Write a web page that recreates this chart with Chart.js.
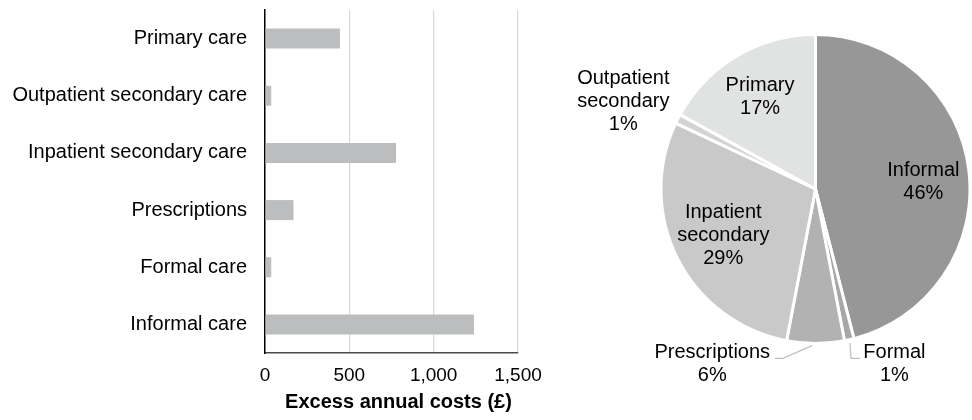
<!DOCTYPE html>
<html>
<head>
<meta charset="utf-8">
<title>Excess annual costs</title>
<script src="https://cdn.jsdelivr.net/npm/chart.js@4.4.1/dist/chart.umd.min.js"></script>
<style>
  html, body { margin: 0; padding: 0; background: #ffffff; }
  #wrap { position: relative; width: 972px; height: 420px; overflow: hidden; }
  #barBox { position: absolute; left: 0; top: 0; width: 560px; height: 420px; }
  #pieBox { position: absolute; left: 540px; top: 0; width: 432px; height: 420px; }
</style>
</head>
<body>
<div id="wrap">
  <div id="barBox"><canvas id="barChart" width="560" height="420"></canvas></div>
  <div id="pieBox"><canvas id="pieChart" width="432" height="420"></canvas></div>
</div>
<script>
// Excess annual cost per person, by cost component (£)
const costCategories = [
  'Primary care',
  'Outpatient secondary care',
  'Inpatient secondary care',
  'Prescriptions',
  'Formal care',
  'Informal care'
];
const costValues = [444, 37, 777, 169, 37, 1239];
const costTicks = [0, 500, 1000, 1500];
const costAxisTitle = 'Excess annual costs (£)';

// Share of total excess cost (%), clockwise from 12 o'clock
const shareNames = ['Informal', 'Formal', 'Prescriptions', 'Inpatient\nsecondary', 'Outpatient\nsecondary', 'Primary'];
const shareValues = [46, 1, 6, 29, 1, 17];
const shareColors = ['#979797', '#a7a7a7', '#b2b2b2', '#c9c9c9', '#d3d3d3', '#e1e2e2'];

const FONT = '"Liberation Sans", Arial, Helvetica, sans-serif';
Chart.defaults.font.family = FONT;
Chart.defaults.color = '#000000';
Chart.defaults.animation = false;

// Bold axis caption under the bar chart
const axisCaption = {
  id: 'axisCaption',
  afterDraw(chart) {
    const ctx = chart.ctx;
    const area = chart.chartArea;
    ctx.save();
    ctx.font = 'bold 20px ' + FONT;
    ctx.fillStyle = '#000000';
    ctx.textAlign = 'center';
    ctx.textBaseline = 'middle';
    ctx.fillText(costAxisTitle, (area.left + area.right) / 2 + 7, 402);
    ctx.restore();
  }
};

new Chart(document.getElementById('barChart'), {
  type: 'bar',
  data: {
    labels: costCategories,
    datasets: [{
      data: costValues,
      backgroundColor: '#bcbdbe',
      borderWidth: 0,
      categoryPercentage: 1,
      barPercentage: 0.35
    }]
  },
  options: {
    indexAxis: 'y',
    responsive: false,
    events: [],
    layout: { padding: { top: 10, right: 42, left: 0, bottom: 0 } },
    plugins: { legend: { display: false }, tooltip: { enabled: false } },
    scales: {
      x: {
        min: costTicks[0],
        max: costTicks[costTicks.length - 1],
        afterBuildTicks(scale) { scale.ticks = costTicks.map(v => ({ value: v })); },
        afterFit(scale) {
          scale.height = 67;
          scale.paddingLeft = 0;
          scale.paddingRight = 0;
        },
        ticks: {
          font: { size: 19 },
          color: '#000000',
          padding: 11,
          maxRotation: 0,
          callback: v => v.toLocaleString('en-GB')
        },
        grid: { color: '#d9d9d9', lineWidth: 1.2, drawTicks: false },
        border: { color: '#4a4a4a', width: 1.5 }
      },
      y: {
        afterFit(scale) {
          scale.width = 265;
          scale.paddingTop = 0;
          scale.paddingBottom = 0;
        },
        ticks: { font: { size: 20 }, color: '#000000', padding: 18 },
        grid: { display: false, drawTicks: false },
        border: { color: '#000000', width: 1.5 }
      }
    }
  },
  plugins: [axisCaption]
});

// Label anchors for the pie, as fractions of the radius from its centre
const labelSpots = [
  [0.698, -0.045],
  [0.511, 1.131],
  [-0.668, 1.131],
  [-0.597, 0.298],
  [-1.244, -0.565],
  [-0.359, -0.597]
];
// Leader lines for the two small outside-labelled slices (fractions of the radius)
const leaderPaths = {
  1: [[0.223, 0.997], [0.230, 1.096], [0.288, 1.096]],
  2: [[-0.023, 1.014], [-0.210, 1.096], [-0.262, 1.096]]
};

const pieLabels = {
  id: 'pieLabels',
  afterDatasetsDraw(chart) {
    const ctx = chart.ctx;
    const meta = chart.getDatasetMeta(0);
    ctx.save();
    // leader lines
    ctx.strokeStyle = '#bfbfbf';
    ctx.lineWidth = 1.2;
    Object.keys(leaderPaths).forEach(k => {
      const arc = meta.data[+k];
      const R = arc.outerRadius;
      ctx.beginPath();
      leaderPaths[k].forEach((p, j) => {
        const x = arc.x + p[0] * R, y = arc.y + p[1] * R;
        if (j === 0) ctx.moveTo(x, y); else ctx.lineTo(x, y);
      });
      ctx.stroke();
    });
    // slice names and percentages
    ctx.font = '20px ' + FONT;
    ctx.fillStyle = '#000000';
    ctx.textAlign = 'center';
    ctx.textBaseline = 'middle';
    const lineH = 23;
    meta.data.forEach((arc, i) => {
      const R = arc.outerRadius;
      const lines = shareNames[i].split('\n').concat([shareValues[i] + '%']);
      const cx = arc.x + labelSpots[i][0] * R;
      const cy = arc.y + labelSpots[i][1] * R;
      const y0 = cy - (lines.length - 1) * lineH / 2;
      lines.forEach((t, j) => ctx.fillText(t, cx, y0 + j * lineH));
    });
    ctx.restore();
  }
};

new Chart(document.getElementById('pieChart'), {
  type: 'pie',
  data: {
    labels: shareNames,
    datasets: [{
      data: shareValues,
      backgroundColor: shareColors,
      borderColor: '#ffffff',
      borderWidth: 3,
      hoverOffset: 0
    }]
  },
  options: {
    responsive: false,
    events: [],
    radius: 154.5,
    layout: { padding: { left: 120, right: 1, top: 20, bottom: 62 } },
    plugins: { legend: { display: false }, tooltip: { enabled: false } }
  },
  plugins: [pieLabels]
});
</script>
</body>
</html>
